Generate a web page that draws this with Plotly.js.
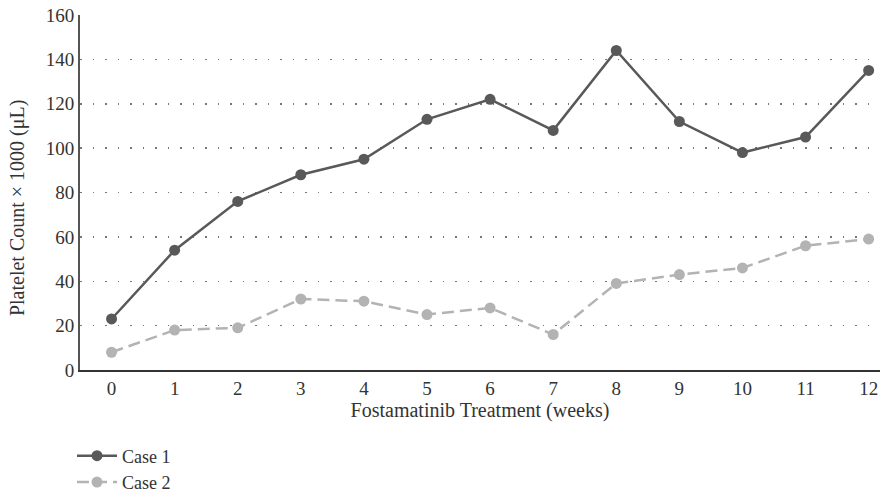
<!DOCTYPE html>
<html><head><meta charset="utf-8">
<script src="https://cdn.plot.ly/plotly-3.0.1.min.js"></script>
<style>html,body{margin:0;padding:0;background:#fff;}#chart{width:888px;height:496px;}</style>
</head><body><div id="chart"></div>
<script>
const weeks = [0,1,2,3,4,5,6,7,8,9,10,11,12];
const case1 = [23,54,76,88,95,113,122,108,144,112,98,105,135];
const case2 = [8,18,19,32,31,25,28,16,39,43,46,56,59];
const seriesNames = ['Case 1','Case 2'];
const xTitle = 'Fostamatinib Treatment (weeks)';
const yTitle = 'Platelet Count × 1000 (μL)';
const fontFam = 'Liberation Serif, DejaVu Serif, serif';
const traces = [
  {x: weeks, y: case1, name: seriesNames[0], mode:'lines+markers',
   line:{color:'#595959', width:2.5}, marker:{color:'#595959', size:11}},
  {x: weeks, y: case2, name: seriesNames[1], mode:'lines+markers',
   line:{color:'#b3b3b3', width:2.5, dash:'12px,6px'}, marker:{color:'#b3b3b3', size:11}}
];
const layout = {
  width:888, height:496,
  margin:{l:80, r:8, t:15, b:126, autoexpand:false},
  paper_bgcolor:'#fff', plot_bgcolor:'#fff',
  font:{family:fontFam, size:20, color:'#333'},
  showlegend:true,
  legend:{orientation:'v', x:-0.01, xanchor:'left', y:-0.19, yanchor:'top',
          font:{family:fontFam, size:18, color:'#333'}, tracegroupgap:0, itemwidth:40,
          bgcolor:'rgba(0,0,0,0)'},
  xaxis:{range:[-0.5,12.18], tickvals:weeks, ticktext:weeks.map(String),
         showgrid:false, zeroline:false, showline:true, linecolor:'#333', linewidth:2,
         ticks:'', ticklen:0, tickfont:{size:19},
         title:{text:xTitle, font:{size:20}, standoff:3}},
  yaxis:{range:[0,160], dtick:20, showgrid:true, gridcolor:'#777', griddash:'1.5px,11px', gridwidth:1.5,
         zeroline:false, showline:true, linecolor:'#555', linewidth:2, ticks:'', tickfont:{size:19}},
  annotations:[{text:yTitle, xref:'paper', yref:'paper', x:-0.078, y:0.455,
                xanchor:'center', yanchor:'middle', textangle:-90, showarrow:false,
                font:{family:fontFam, size:20, color:'#333'}}]
};
Plotly.newPlot('chart', traces, layout, {displayModeBar:false, staticPlot:true});
</script></body></html>
